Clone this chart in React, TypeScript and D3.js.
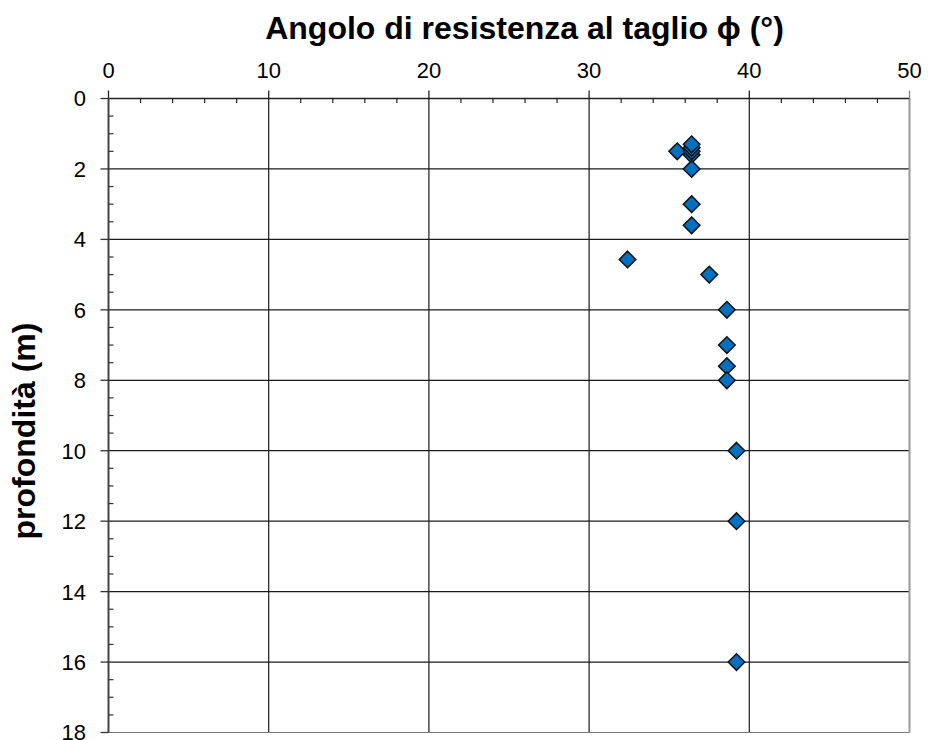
import React from "react";
import * as d3 from "d3";

const depths = [1.5, 1.6, 1.5, 1.4, 1.3, 2.0, 3.0, 3.6, 4.57, 5.0, 6.0, 7.0, 7.6, 8.0, 10.0, 12.0, 16.0];
const phis = [35.5, 36.4, 36.4, 36.4, 36.4, 36.4, 36.4, 36.4, 32.4, 37.5, 38.6, 38.6, 38.6, 38.6, 39.2, 39.2, 39.2];
const xTicks = [0, 10, 20, 30, 40, 50];
const yTicks = [0, 2, 4, 6, 8, 10, 12, 14, 16, 18];
const xTitle = "Angolo di resistenza al taglio \u03D5 (°)";
const yTitle = "profondità (m)";

export default function App() {
  const W = 928, H = 740;
  const x = d3.scaleLinear().domain([0, 50]).range([108.5, 909.5]);
  const y = d3.scaleLinear().domain([0, 18]).range([98.5, 732.5]);
  const xMinor = d3.range(0, 50.001, 2).filter((v) => v % 10 !== 0);
  const yMinor = d3.range(0, 18.001, 0.5).filter((v) => v % 2 !== 0);
  const font = "'Liberation Sans', Arial, sans-serif";
  const r = 8.3;
  const pts = depths.map((d, i) => ({ d, p: phis[i] }));
  return (
    <svg width={W} height={H} style={{ position: "absolute", left: 0, top: 0, background: "#fff" }} fontFamily={font}>
      {/* grid */}
      {xTicks.slice(1, -1).map((t) => (
        <line key={"gx" + t} x1={x(t)} x2={x(t)} y1={y(0)} y2={y(18)} stroke="#1a1a1a" strokeWidth={1.2} />
      ))}
      {yTicks.slice(1).map((t) => (
        <line key={"gy" + t} x1={x(0)} x2={x(50)} y1={y(t)} y2={y(t)} stroke={t === 18 ? "#777" : "#1a1a1a"} strokeWidth={1.2} />
      ))}
      {/* right border */}
      <line x1={x(50)} x2={x(50)} y1={y(0)} y2={y(18)} stroke="#999" strokeWidth={2} />
      {/* top axis */}
      <line x1={x(0)} x2={x(50)} y1={y(0)} y2={y(0)} stroke="#222" strokeWidth={1.5} />
      {xTicks.map((t) => (
        <line key={"xt" + t} x1={x(t)} x2={x(t)} y1={y(0) - 8} y2={y(0)} stroke={t === 50 ? "#888" : "#222"} strokeWidth={1.3} />
      ))}
      {xMinor.map((t) => (
        <line key={"xm" + t} x1={x(t)} x2={x(t)} y1={y(0)} y2={y(0) + 4.5} stroke="#222" strokeWidth={1.2} />
      ))}
      {xTicks.map((t) => (
        <text key={"xl" + t} x={x(t)} y={78} textAnchor="middle" fontSize={22} fill="#000">{t}</text>
      ))}
      {/* left axis */}
      <line x1={x(0)} x2={x(0)} y1={y(0)} y2={y(18)} stroke="#444" strokeWidth={2} />
      {yTicks.map((t) => (
        <line key={"yt" + t} x1={x(0) - 8} x2={x(0)} y1={y(t)} y2={y(t)} stroke="#333" strokeWidth={1.3} />
      ))}
      {yMinor.map((t) => (
        <line key={"ym" + t} x1={x(0)} x2={x(0) + 5} y1={y(t)} y2={y(t)} stroke="#333" strokeWidth={1.2} />
      ))}
      {yTicks.map((t) => (
        <text key={"yl" + t} x={86} y={y(t)} dy="0.36em" textAnchor="end" fontSize={22} fill="#000">{t}</text>
      ))}
      {/* points */}
      {pts.map((pt, i) => (
        <path
          key={"p" + i}
          transform={`translate(${x(pt.p)},${y(pt.d)})`}
          d={`M0,${-r}L${r},0L0,${r}L${-r},0Z`}
          fill="#0070C0"
          stroke="#111"
          strokeWidth={1.5}
        />
      ))}
      {/* titles */}
      <text x={524.5} y={39} textAnchor="middle" fontSize={32} fontWeight="bold" fill="#000">{xTitle}</text>
      <text transform="translate(35,431) rotate(-90)" textAnchor="middle" fontSize={32} fontWeight="bold" fill="#000">{yTitle}</text>
    </svg>
  );
}
